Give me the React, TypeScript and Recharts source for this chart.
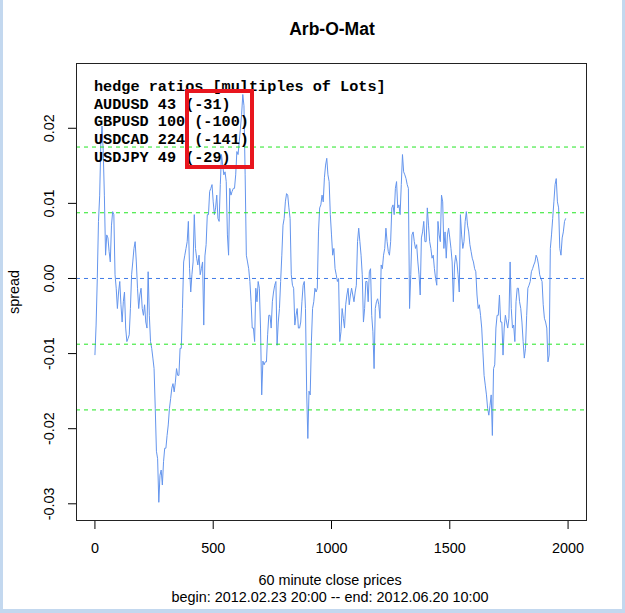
import { LineChart, Line, XAxis, YAxis, ReferenceLine } from "recharts";

// hourly spread, one reading every STEP bars
const STEP = 5;
const spread = [
  -0.0102, -0.0062, 0.0, 0.0076, 0.011, 0.018, 0.0203, 0.017, 0.011, 0.0031,
  0.0058, 0.0054, 0.0036, 0.0022, 0.0071, 0.0089, 0.0085, 0.0005, -0.0013, -0.004,
  -0.0018, -0.0004, -0.0035, -0.0058, -0.0031, -0.0018, -0.0066, -0.0084, -0.008, -0.0075,
  -0.004, 0.0005, 0.0022, 0.004, 0.0049, 0.0022, -0.0013, -0.004, -0.0022, -0.0013,
  -0.004, -0.0049, -0.0035, -0.0058, -0.0066, 0.0009, -0.0049, -0.0084, -0.0093, -0.0106,
  -0.012, -0.0173, -0.023, -0.024, -0.0298, -0.0262, -0.0255, -0.0275, -0.0244, -0.0226,
  -0.0226, -0.0209, -0.0195, -0.0173, -0.016, -0.0146, -0.014, -0.0151, -0.0138, -0.012,
  -0.0129, -0.0129, -0.0093, -0.0093, -0.004, 0.0022, 0.0031, 0.004, 0.0049, 0.0076,
  0.0013, -0.0018, 0.0005, 0.0022, 0.0085, 0.004, 0.0027, 0.0018, 0.0031, 0.0005,
  0.0013, 0.0022, -0.0062, 0.003, 0.0045, 0.0085, 0.0085, 0.0116, 0.012, 0.0125,
  0.0102, 0.0085, 0.0094, 0.0111, 0.008, 0.0076, 0.0125, 0.0165, 0.0151, 0.0138,
  0.0142, 0.0129, 0.0058, 0.0031, 0.012, 0.0111, 0.0116, 0.012, 0.012, 0.0138,
  0.0169, 0.0165, 0.0182, 0.02, 0.0218, 0.0245, 0.023, 0.0138, 0.0031, 0.0022,
  0.0013, -0.0004, -0.0031, -0.0066, -0.0066, -0.0084, -0.0013, -0.0031, -0.0004, -0.0013,
  -0.0066, -0.0155, -0.011, -0.0115, -0.0111, -0.0111, -0.0075, -0.0049, -0.0049, -0.0066,
  -0.0031, -0.0018, -0.0009, -0.0004, -0.0089, -0.0058, -0.004, -0.0004, 0.0031, 0.0071,
  0.008, 0.0102, 0.0113, 0.0111, 0.0094, 0.008, 0.0005, -0.0009, -0.0013, -0.0062,
  -0.0049, -0.004, -0.0066, -0.0066, -0.0058, -0.0031, -0.0009, -0.0004, -0.004, -0.0151,
  -0.0213, -0.015, -0.0155, -0.0084, -0.004, -0.0031, -0.0013, -0.0018, -0.0013, 0.0062,
  0.0094, 0.0098, 0.0111, 0.0102, 0.0134, 0.0151, 0.016, 0.0138, 0.0129, 0.0085,
  0.0058, 0.0031, 0.004, 0.0013, 0.0005, -0.0004, 0.0, -0.0084, -0.0071, -0.004,
  -0.0053, -0.0066, -0.0035, -0.0022, -0.0013, -0.0035, -0.0022, -0.0013, -0.0022, -0.0031,
  -0.0018, -0.0009, 0.0049, 0.0067, 0.0049, 0.0031, 0.0005, -0.0058, -0.004, -0.0004,
  -0.0004, -0.0031, 0.0009, 0.0013, -0.0049, -0.0071, -0.012, -0.004, -0.0031, -0.0027,
  -0.0035, -0.0053, 0.0018, 0.0013, 0.0031, 0.004, 0.0067, 0.0049, 0.0036, 0.0031,
  0.0049, 0.0094, 0.0098, 0.0085, 0.012, 0.0129, 0.0094, 0.0098, 0.0085, 0.0125,
  0.0165, 0.0142, 0.0138, 0.0133, 0.0125, 0.012, -0.004, 0.0005, 0.0058, 0.0062,
  0.0049, 0.004, 0.0045, 0.0022, 0.0005, -0.0022, 0.0054, 0.0062, 0.0076, 0.0049,
  0.0049, 0.0094, 0.0071, 0.0049, 0.004, 0.0027, 0.0031, 0.0013, 0.0, -0.0009,
  0.0076, 0.0058, 0.0049, 0.0111, 0.0102, 0.004, 0.0062, 0.0027, 0.0058, 0.0067,
  0.0054, 0.004, 0.0022, -0.0031, 0.0018, 0.0031, 0.0022, 0.0005, -0.0018, 0.0085,
  0.0058, 0.004, 0.0049, 0.0076, 0.0089, 0.0071, 0.0062, 0.0045, 0.0036, 0.0027,
  0.0022, 0.0013, 0.0009, -0.0022, -0.004, -0.0035, -0.0049, -0.0066, -0.0098, -0.0129,
  -0.0142, -0.0155, -0.0173, -0.0182, -0.0169, -0.0155, -0.0209, -0.012, -0.0115, -0.0066,
  -0.0049, -0.0049, -0.0022, -0.0058, -0.0058, -0.0102, -0.0066, -0.0049, -0.0058, -0.0066,
  -0.0053, 0.0022, -0.004, -0.0066, -0.0062, -0.0084, -0.0031, -0.0013, -0.0013, -0.0031,
  -0.004, -0.0058, -0.0084, -0.0106, -0.0093, -0.0049, -0.0013, -0.0009, -0.0004, 0.0009,
  0.0013, 0.0018, 0.0022, 0.0031, 0.0027, 0.0018, 0.0005, 0.0, -0.0004, -0.0035,
  -0.0053, -0.0058, -0.0066, -0.0111, -0.0102, 0.004, 0.0058, 0.008, 0.0102, 0.0125,
  0.0133, 0.0102, 0.0094, 0.004, 0.0031, 0.0054, 0.0062, 0.0076, 0.008,
];

const xTicks = [0, 500, 1000, 1500, 2000];
const yTicks = [-0.03, -0.02, -0.01, 0, 0.01, 0.02];
const bandLevels = [-0.0175, -0.00875, 0.00875, 0.0175];
const hedgeLines = [
  "hedge ratios [multiples of Lots]",
  "AUDUSD 43 (-31)",
  "GBPUSD 100 (-100)",
  "USDCAD 224 (-141)",
  "USDJPY 49 (-29)",
];

const data = spread.map((v, i) => ({ idx: i * STEP, spread: v }));

const SANS = "'Liberation Sans', Arial, sans-serif";
const MONO = "'Liberation Mono', 'Courier New', monospace";

const XTick = ({ x, payload }: any) => (
  <text x={x} y={552.7} textAnchor="middle" fontSize={14.4} fontFamily={SANS} fill="#000">
    {payload.value}
  </text>
);

const YTick = ({ y, payload }: any) => (
  <text
    x={54.2}
    y={y}
    transform={`rotate(-90 54.2 ${y})`}
    textAnchor="middle"
    fontSize={14.4}
    fontFamily={SANS}
    fill="#000"
  >
    {Number(payload.value).toFixed(2)}
  </text>
);

export default function App() {
  return (
    <div
      style={{
        position: "absolute",
        left: 0,
        top: 0,
        width: 625,
        height: 613,
        background: "#fff",
        overflow: "hidden",
      }}
    >
      <LineChart
        width={625}
        height={613}
        data={data}
        margin={{ top: 63, right: 38, bottom: 72, left: 56 }}
      >
        <XAxis
          dataKey="idx"
          type="number"
          domain={[-80, 2080]}
          allowDataOverflow
          ticks={xTicks}
          height={20}
          axisLine={false}
          tickLine={{ stroke: "#000" }}
          tickSize={8}
          tick={<XTick />}
        />
        <YAxis
          type="number"
          domain={[-0.03229, 0.02869]}
          allowDataOverflow
          ticks={yTicks}
          width={20}
          axisLine={false}
          tickLine={{ stroke: "#000" }}
          tickSize={8}
          tick={<YTick />}
        />
        <Line
          dataKey="spread"
          stroke="#6495ED"
          strokeWidth={1}
          dot={false}
          isAnimationActive={false}
        />
        <ReferenceLine y={0} stroke="#3f7be6" strokeDasharray="4 4" />
        {bandLevels.map((lv) => (
          <ReferenceLine key={lv} y={lv} stroke="#22e622" strokeDasharray="4 4" />
        ))}
      </LineChart>

      <svg
        width={625}
        height={613}
        style={{ position: "absolute", left: 0, top: 0, pointerEvents: "none" }}
      >
        {/* plot frame */}
        <rect x={76.5} y={63.5} width={510} height={457} fill="none" stroke="#222" />
        <text x={332} y={35} textAnchor="middle" fontSize={17.5} fontWeight="bold" fontFamily={SANS}>
          Arb-O-Mat
        </text>
        <text x={330} y={585} textAnchor="middle" fontSize={14.4} fontFamily={SANS}>
          60 minute close prices
        </text>
        <text x={330} y={602} textAnchor="middle" fontSize={14.4} fontFamily={SANS}>
          begin: 2012.02.23 20:00 -- end: 2012.06.20 10:00
        </text>
        <text
          x={18.8}
          y={292}
          transform="rotate(-90 18.8 292)"
          textAnchor="middle"
          fontSize={14.4}
          fontFamily={SANS}
        >
          spread
        </text>
        {hedgeLines.map((s, i) => (
          <text
            key={s}
            x={94}
            y={91 + i * 17.7}
            fontSize={15.2}
            fontWeight="bold"
            fontFamily={MONO}
            style={{ whiteSpace: "pre" }}
          >
            {s}
          </text>
        ))}
        <rect x={187} y={91} width={65} height={76} fill="none" stroke="#e8161e" strokeWidth={4} />
        {/* window edge */}
        <rect x={0} y={0} width={3} height={613} fill="#c3d8ef" />
        <rect x={622} y={0} width={3} height={613} fill="#c3d8ef" />
        <rect x={0} y={609} width={625} height={4} fill="#c3d8ef" />
      </svg>
    </div>
  );
}
